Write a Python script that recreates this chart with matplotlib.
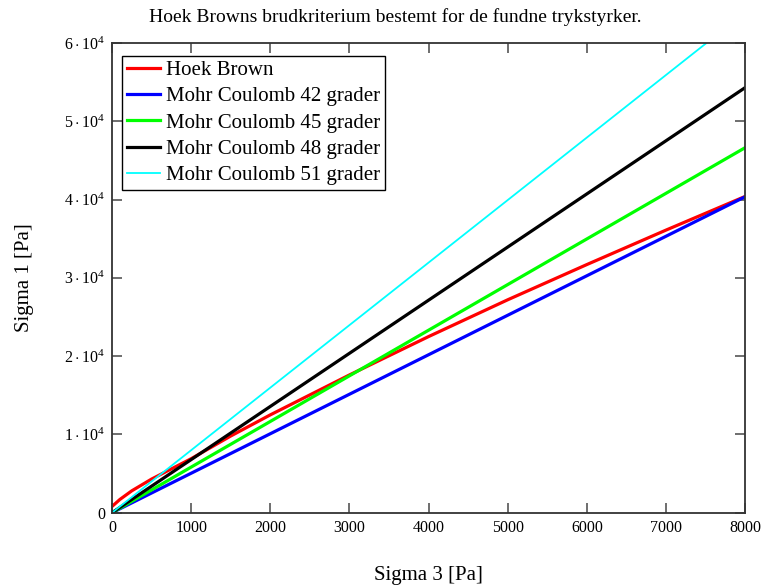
import numpy as np
import matplotlib
matplotlib.use("Agg")
import matplotlib.pyplot as plt
from matplotlib.ticker import FixedLocator, FixedFormatter

plt.rcParams['font.family'] = ['Liberation Serif', 'DejaVu Serif']
plt.rcParams['mathtext.fontset'] = 'custom'
plt.rcParams['mathtext.rm'] = 'Liberation Serif'
plt.rcParams['mathtext.it'] = 'Liberation Serif:italic'

# Hoek Brown failure envelope (sigma 3, sigma 1) in Pa
hb_sigma3 = [0, 100, 250, 500, 1000, 1500, 2000, 3000, 4000, 5000, 6000, 7000, 8000]
hb_sigma1 = [800, 1700, 2800, 4300, 6900, 9800, 12500, 17600, 22500, 27200, 31700, 36100, 40400]

# Mohr Coulomb envelopes, straight lines from the origin
mc_sigma3 = [0, 8000]
mc_42 = [0, 40360]
mc_45 = [0, 46630]
mc_48 = [0, 54300]
mc_51 = [0, 63900]

x_ticks = [0, 1000, 2000, 3000, 4000, 5000, 6000, 7000, 8000]
y_ticks = [0, 10000, 20000, 30000, 40000, 50000, 60000]
y_tick_labels = ['0'] + [r'$%d\cdot10^{4}$' % k for k in range(1, 7)]

fig = plt.figure(figsize=(7.62, 5.88), dpi=100)
ax = fig.add_axes([0.147, 0.128, 0.831, 0.799])

ax.plot(hb_sigma3, hb_sigma1, color='#ff0000', linewidth=2.3, label='Hoek Brown')
ax.plot(mc_sigma3, mc_42, color='#0000ff', linewidth=2.3, label='Mohr Coulomb 42 grader')
ax.plot(mc_sigma3, mc_45, color='#00ff00', linewidth=2.3, label='Mohr Coulomb 45 grader')
ax.plot(mc_sigma3, mc_48, color='#000000', linewidth=2.3, label='Mohr Coulomb 48 grader')
ax.plot(mc_sigma3, mc_51, color='#00ffff', linewidth=1.3, label='Mohr Coulomb 51 grader')

ax.set_xlim(0, 8000)
ax.set_ylim(0, 60000)
ax.xaxis.set_major_locator(FixedLocator(x_ticks))
ax.yaxis.set_major_locator(FixedLocator(y_ticks))
ax.yaxis.set_major_formatter(FixedFormatter(y_tick_labels))
ax.tick_params(direction='in', length=7, width=1.2, color='#555555',
               top=True, right=True, labelsize=11.5, pad=5)
for s in ax.spines.values():
    s.set_linewidth(1.3)
    s.set_color('#333333')

ax.set_xlabel('Sigma 3 [Pa]', fontsize=15, labelpad=22)
ax.set_ylabel('Sigma 1 [Pa]', fontsize=15, labelpad=22)

# title sits a little left of the plot centre
ax.text(0.447, 1.035, 'Hoek Browns brudkriterium bestemt for de fundne trykstyrker.',
        transform=ax.transAxes, ha='center', va='bottom', fontsize=14)

leg = ax.legend(loc='upper left', bbox_to_anchor=(0.016, 0.972), fontsize=15,
                fancybox=False, framealpha=1, edgecolor='#000000',
                handlelength=1.6, handletextpad=0.3, borderpad=0.22,
                labelspacing=0.32, borderaxespad=0)
leg.get_frame().set_linewidth(1.0)

fig.savefig('out.png', dpi=100)
